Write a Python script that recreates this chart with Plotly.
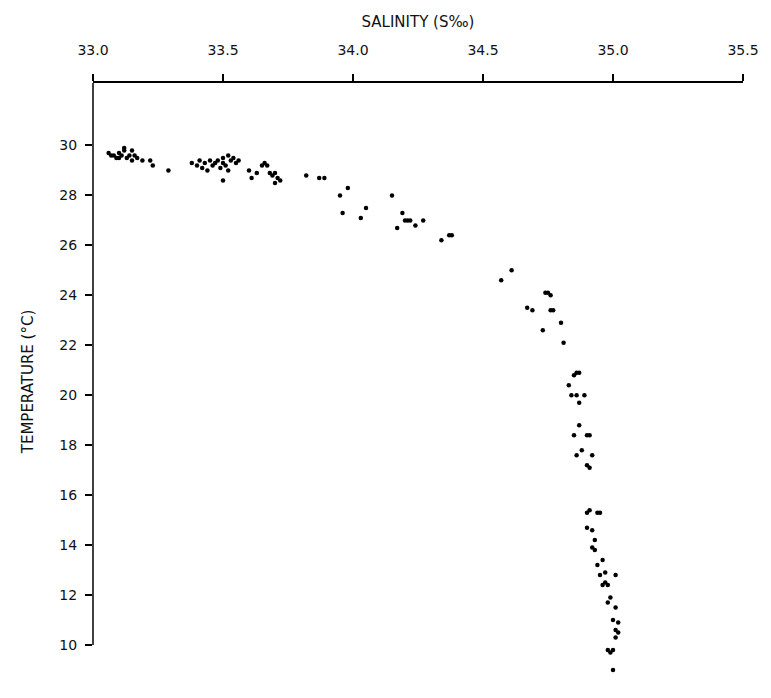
import plotly.graph_objects as go

salinity = [
    33.06, 33.07, 33.08, 33.09, 33.10, 33.10, 33.11, 33.12, 33.12, 33.13, 33.14, 33.15, 33.15, 33.16, 33.17, 33.19, 33.22, 33.23,
    33.29,
    33.38, 33.40, 33.41, 33.42, 33.43, 33.44, 33.45, 33.46, 33.47, 33.48, 33.49, 33.50, 33.50, 33.51, 33.52, 33.53, 33.52, 33.54, 33.55, 33.50, 33.56,
    33.60, 33.61, 33.63, 33.65, 33.66, 33.67, 33.68, 33.69, 33.70, 33.71, 33.70, 33.72,
    33.82, 33.87, 33.89,
    33.95, 33.96, 33.98, 34.03, 34.05,
    34.15, 34.17, 34.19, 34.20, 34.21, 34.22, 34.24, 34.27,
    34.34, 34.37, 34.38,
    34.57, 34.61,
    34.67, 34.69, 34.74, 34.75, 34.76, 34.73, 34.76, 34.77, 34.80, 34.81,
    34.85, 34.86, 34.87, 34.83, 34.84, 34.86, 34.87, 34.89, 34.85, 34.87, 34.88, 34.86, 34.90, 34.91, 34.90, 34.92, 34.91,
    34.91, 34.90, 34.94, 34.95, 34.90, 34.92, 34.93, 34.92, 34.93, 34.94, 34.96, 34.95, 34.97, 34.96, 34.97, 34.98, 35.01,
    34.99, 34.98, 35.01, 35.00, 35.02, 35.01, 35.02, 35.01, 35.00, 34.98, 34.99, 35.00,
]
temperature = [
    29.7, 29.6, 29.6, 29.5, 29.7, 29.5, 29.6, 29.8, 29.9, 29.5, 29.6, 29.8, 29.4, 29.6, 29.5, 29.4, 29.4, 29.2,
    29.0,
    29.3, 29.2, 29.4, 29.1, 29.3, 29.0, 29.4, 29.2, 29.3, 29.4, 29.1, 29.5, 29.3, 29.2, 29.6, 29.4, 29.0, 29.5, 29.3, 28.6, 29.4,
    29.0, 28.7, 28.9, 29.2, 29.3, 29.2, 28.9, 28.8, 28.9, 28.7, 28.5, 28.6,
    28.8, 28.7, 28.7,
    28.0, 27.3, 28.3, 27.1, 27.5,
    28.0, 26.7, 27.3, 27.0, 27.0, 27.0, 26.8, 27.0,
    26.2, 26.4, 26.4,
    24.6, 25.0,
    23.5, 23.4, 24.1, 24.1, 24.0, 22.6, 23.4, 23.4, 22.9, 22.1,
    20.8, 20.9, 20.9, 20.4, 20.0, 20.0, 19.7, 20.0, 18.4, 18.8, 17.8, 17.6, 18.4, 18.4, 17.2, 17.6, 17.1,
    15.4, 15.3, 15.3, 15.3, 14.7, 14.6, 14.2, 13.9, 13.8, 13.2, 13.4, 12.8, 12.9, 12.4, 12.5, 12.4, 12.8,
    11.9, 11.7, 11.5, 11.0, 10.9, 10.6, 10.5, 10.3, 9.8, 9.8, 9.7, 9.0,
]

x_ticks = [33.0, 33.5, 34.0, 34.5, 35.0, 35.5]
x_tick_labels = ["33.0", "33.5", "34.0", "34.5", "35.0", "35.5"]
y_ticks = [10, 12, 14, 16, 18, 20, 22, 24, 26, 28, 30]

fig = go.Figure()
fig.add_trace(go.Scatter(
    x=salinity, y=temperature, mode="markers",
    marker=dict(color="black", size=4.5),
    showlegend=False, hoverinfo="skip",
))

font = dict(family="DejaVu Sans, sans-serif", size=14, color="#111")

fig.update_layout(
    width=771, height=698,
    margin=dict(l=93, r=22, t=83, b=18),
    paper_bgcolor="white", plot_bgcolor="white",
    font=font,
    xaxis=dict(
        side="top", range=[33.0, 35.5], tickvals=x_ticks, ticktext=x_tick_labels,
        showgrid=False, zeroline=False, showline=True, linecolor="black", linewidth=1.5,
        ticks="outside", ticklen=7, tickcolor="black", tickwidth=1.5,
        title=dict(text="SALINITY (S‰)", standoff=10, font=dict(size=15)),
        ticklabelstandoff=14,
    ),
    yaxis=dict(
        range=[8.6, 32.5], tickvals=y_ticks,
        showgrid=False, zeroline=False, showline=False,
        ticks="outside", ticklen=7, tickcolor="black", tickwidth=1.5,
        ticklabelstandoff=5,
        title=dict(text="TEMPERATURE (°C)", standoff=22, font=dict(size=15)),
    ),
)
# left axis line running from the 10 tick to the top axis
fig.add_shape(type="line", xref="x domain", yref="y", x0=0, x1=0, y0=10, y1=32.5,
              line=dict(color="black", width=1.5))

fig.write_html("out.html")
